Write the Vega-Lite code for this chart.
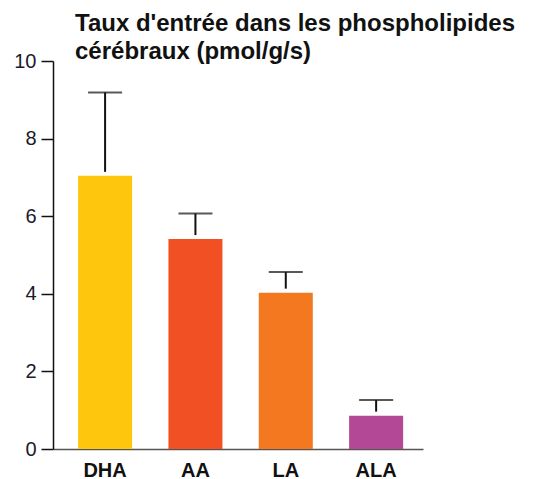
{
  "$schema": "https://vega.github.io/schema/vega-lite/v6.json",
  "autosize": "none",
  "width": 370,
  "height": 388,
  "padding": {"left": 53, "top": 61, "right": 118, "bottom": 30},
  "background": "white",
  "title": {
    "text": ["Taux d'entrée dans les phospholipides", "cérébraux (pmol/g/s)"],
    "anchor": "start",
    "frame": "group",
    "dx": 22,
    "offset": -13,
    "font": "Liberation Sans",
    "fontSize": 24,
    "fontWeight": "bold",
    "lineHeight": 28,
    "color": "#111111"
  },
  "data": {
    "values": [
      {"acide": "DHA", "valeur": 7.04, "haut": 9.19},
      {"acide": "AA", "valeur": 5.41, "haut": 6.07},
      {"acide": "LA", "valeur": 4.03, "haut": 4.56},
      {"acide": "ALA", "valeur": 0.86, "haut": 1.26}
    ]
  },
  "encoding": {
    "x": {
      "field": "acide",
      "type": "nominal",
      "sort": null,
      "scale": {"paddingInner": 0.4023, "paddingOuter": 0.2488, "align": 0.558},
      "axis": {
        "title": null,
        "labelAngle": 0,
        "ticks": false,
        "labelFont": "Liberation Sans",
        "labelFontSize": 20,
        "labelFontWeight": "bold",
        "labelColor": "#111111",
        "labelPadding": 11,
        "domainColor": "#555555",
        "domainWidth": 1.5
      }
    }
  },
  "layer": [
    {
      "mark": {"type": "bar"},
      "encoding": {
        "y": {
          "field": "valeur",
          "type": "quantitative",
          "scale": {"domain": [0, 10], "nice": false},
          "axis": {
            "title": null,
            "values": [0, 2, 4, 6, 8, 10],
            "grid": false,
            "tickSize": 12,
            "tickColor": "#111111",
            "tickWidth": 1.5,
            "domainColor": "#111111",
            "domainWidth": 1.5,
            "labelFont": "Liberation Sans",
            "labelFontSize": 20,
            "labelColor": "#1a1a2a",
            "labelPadding": 5
          }
        },
        "color": {
          "field": "acide",
          "type": "nominal",
          "legend": null,
          "scale": {
            "domain": ["DHA", "AA", "LA", "ALA"],
            "range": ["#FEC70E", "#F15024", "#F47820", "#B24896"]
          }
        }
      }
    },
    {
      "mark": {"type": "rule", "color": "#111111", "strokeWidth": 2, "yOffset": -4},
      "encoding": {
        "y": {"field": "valeur", "type": "quantitative"},
        "y2": {"field": "haut"}
      }
    },
    {
      "mark": {"type": "tick", "color": "#111111", "orient": "horizontal", "size": 34, "thickness": 2},
      "encoding": {
        "y": {"field": "haut", "type": "quantitative"}
      }
    }
  ],
  "config": {"view": {"stroke": null}}
}
